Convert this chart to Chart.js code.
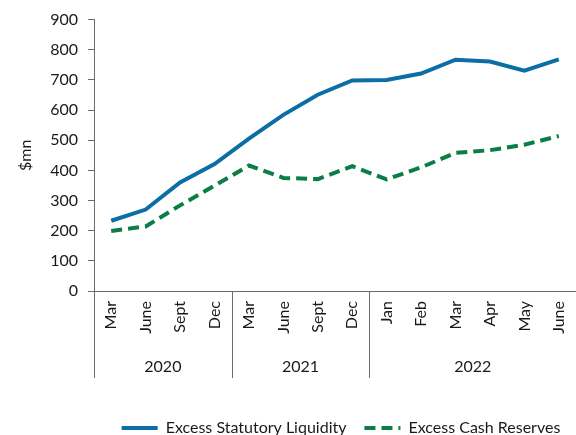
<!DOCTYPE html>
<html>
<head>
<meta charset="utf-8">
<script src="https://cdn.jsdelivr.net/npm/chart.js@4.4.1/dist/chart.umd.min.js"></script>
<style>
  html, body { margin: 0; padding: 0; background: #fff; }
  #wrap { width: 576px; height: 435px; }
</style>
</head>
<body>
<div id="wrap"><canvas id="liquidityChart"></canvas></div>
<script>
// categories (months), grouped by year
const monthLabels = ['Mar', 'June', 'Sept', 'Dec', 'Mar', 'June', 'Sept', 'Dec', 'Jan', 'Feb', 'Mar', 'Apr', 'May', 'June'];
const yearLabels = ['2020', '2021', '2022'];
const yearSizes = [4, 4, 6];

// series values ($mn)
const statutoryLiquidity = [233, 270, 360, 421, 505, 584, 651, 698, 700, 721, 767, 761, 731, 768];
const cashReserves = [199, 214, 284, 349, 416, 375, 371, 414, 370, 410, 458, 467, 485, 514];

const yTicks = [0, 100, 200, 300, 400, 500, 600, 700, 800, 900];

const axisColor = '#6b6b6b';
const textColor = '#1a1a1a';
const fontFamily = 'Lato, "Open Sans", sans-serif';
const fontSize = 16;

// draws the year row under the month labels
const yearGroupPlugin = {
    id: 'yearGroups',
    afterLayout(chart) {
        // legend sits centred under the plot area, not the whole canvas
        const legend = chart.legend;
        const shift = (chart.chartArea.left + chart.chartArea.right) / 2 - (legend.left + legend.right) / 2 + 6;
        legend.left += shift;
        legend.right += shift;
    },
    afterDraw(chart) {
        const xScale = chart.scales.x;
        const ctx = chart.ctx;
        const top = xScale.top;
        const bottom = xScale.top + 87;
        const half = (xScale.getPixelForValue(1) - xScale.getPixelForValue(0)) / 2;

        ctx.save();
        ctx.strokeStyle = axisColor;
        ctx.lineWidth = 1;
        ctx.fillStyle = textColor;
        ctx.font = fontSize + 'px ' + fontFamily;
        ctx.textAlign = 'center';
        ctx.textBaseline = 'middle';

        let start = 0;
        let left = xScale.left;
        ctx.beginPath();
        ctx.moveTo(left + 0.5, top);
        ctx.lineTo(left + 0.5, bottom);
        ctx.stroke();
        yearLabels.forEach((year, i) => {
            const end = start + yearSizes[i] - 1;
            const right = end === monthLabels.length - 1 ? xScale.right : xScale.getPixelForValue(end) + half;
            if (end < monthLabels.length - 1) {
                const lx = Math.round(right) + 0.5;
                ctx.beginPath();
                ctx.moveTo(lx, top);
                ctx.lineTo(lx, bottom);
                ctx.stroke();
            }
            ctx.fillText(year, (left + right) / 2, top + 76);
            left = right;
            start = end + 1;
        });
        ctx.restore();
    }
};

const ctx = document.getElementById('liquidityChart').getContext('2d');

new Chart(ctx, {
    type: 'line',
    data: {
        labels: monthLabels,
        datasets: [{
            label: 'Excess Statutory Liquidity',
            data: statutoryLiquidity,
            borderColor: '#0b6ea6',
            backgroundColor: '#0b6ea6',
            borderWidth: 4,
            pointRadius: 0,
            tension: 0,
            fill: false
        }, {
            label: 'Excess Cash Reserves',
            data: cashReserves,
            borderColor: '#0b7d46',
            backgroundColor: '#0b7d46',
            borderWidth: 4,
            borderDash: [11, 6],
            pointRadius: 0,
            tension: 0,
            fill: false
        }]
    },
    options: {
        responsive: true,
        maintainAspectRatio: false,
        animation: false,
        layout: {
            padding: { top: 9, right: 0, left: 0, bottom: -11 }
        },
        plugins: {
            tooltip: { enabled: false },
            legend: {
                position: 'bottom',
                labels: {
                    usePointStyle: true,
                    pointStyle: 'line',
                    pointStyleWidth: 36,
                    boxHeight: 4,
                    color: textColor,
                    font: { family: fontFamily, size: fontSize },
                    padding: 18,
                    generateLabels(chart) {
                        return chart.data.datasets.map((ds, i) => ({
                            text: ds.label,
                            datasetIndex: i,
                            strokeStyle: ds.borderColor,
                            fillStyle: ds.borderColor,
                            lineWidth: 4,
                            lineDash: ds.borderDash || [],
                            pointStyle: 'line',
                            fontColor: textColor
                        }));
                    }
                }
            }
        },
        scales: {
            x: {
                offset: true,
                grid: { display: false, drawTicks: false },
                border: { display: true, color: axisColor, width: 1 },
                ticks: {
                    color: textColor,
                    font: { family: fontFamily, size: fontSize },
                    maxRotation: 90,
                    minRotation: 90,
                    autoSkip: false,
                    padding: 10
                },
                afterFit(scale) {
                    scale.height = 111;
                    scale.paddingLeft = 0;
                    scale.paddingRight = 0;
                }
            },
            y: {
                min: 0,
                max: 900,
                afterBuildTicks(scale) {
                    scale.ticks = yTicks.map(v => ({ value: v }));
                },
                grid: {
                    drawOnChartArea: false,
                    drawTicks: true,
                    tickLength: 6,
                    color: axisColor
                },
                border: { display: true, color: axisColor, width: 1 },
                ticks: {
                    color: textColor,
                    font: { family: fontFamily, size: fontSize },
                    padding: 10
                },
                title: {
                    display: true,
                    text: '$mn',
                    color: textColor,
                    font: { family: fontFamily, size: fontSize },
                    padding: { top: 16, bottom: 0 }
                },
                afterFit(scale) {
                    scale.width = 94;
                }
            }
        }
    },
    plugins: [yearGroupPlugin]
});
</script>
</body>
</html>
